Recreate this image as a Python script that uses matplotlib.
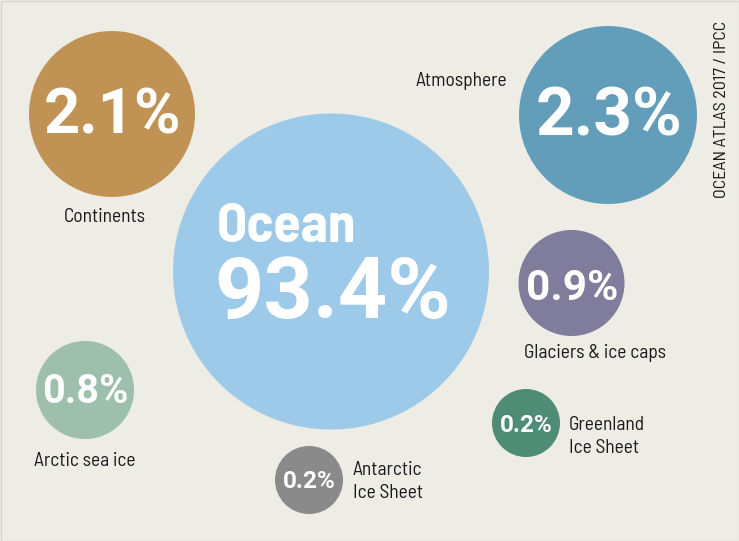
import matplotlib.pyplot as plt
from matplotlib.patches import Circle, Rectangle

# share of the excess heat taken up, by component
names = ['Continents', 'Atmosphere', 'Ocean', 'Glaciers & ice caps',
         'Arctic sea ice', 'Greenland\nIce Sheet', 'Antarctic\nIce Sheet']
shares = [2.1, 2.3, 93.4, 0.9, 0.8, 0.2, 0.2]
colors = ['#C09254', '#629EB9', '#9DCAE8', '#807C9C', '#9DBFAC', '#4F8C76', '#8A8A8A']

# bubble layout (pixel space of the 739x541 picture)
cx = [112, 608, 331, 571.5, 85, 526, 309]
cy = [114, 115, 271.5, 283, 390, 423, 480]
rad = [83, 89, 158, 53, 49, 34, 34]
pct_size = [45.5, 48.5, 62, 30.5, 28.5, 17.5, 17.5]
pct_base = [133, 135, 318, 300, 403, 432, 488]

bg = '#EDECE5'
cond = ['Barlow Semi Condensed', 'DejaVu Sans']
wide = ['Roboto', 'DejaVu Sans']

fig = plt.figure(figsize=(7.39, 5.41), dpi=100)
fig.patch.set_facecolor(bg)
ax = fig.add_axes([0, 0, 1, 1])
ax.set_xlim(0, 739)
ax.set_ylim(541, 0)
ax.set_aspect('equal')
ax.axis('off')
ax.add_patch(Rectangle((0.5, 0.5), 738, 540, fc=bg, ec='#D6D4CC', lw=1))

for i in range(len(names)):
    ax.add_patch(Circle((cx[i], cy[i]), rad[i], color=colors[i], lw=0))

pct = ['%.1f%%' % s for s in shares]

# numbers inside the bubbles
for i in [0, 1, 3, 4, 5, 6]:
    ax.text(cx[i] + 0.5, pct_base[i], pct[i], ha='center', va='baseline',
            fontsize=pct_size[i], fontweight='bold', color='white', family=wide)

ax.text(217, 242, 'Ocean', ha='left', va='baseline', fontsize=40,
        fontweight='bold', color='white', family=cond)
ax.text(214, pct_base[2], pct[2], ha='left', va='baseline', fontsize=pct_size[2],
        fontweight='bold', color='white', family=wide)

# names beside or under the bubbles (baseline = last line)
lab = dict(fontsize=14, color='#1A1A1A', va='baseline', family=cond, linespacing=1.35)
ax.text(105, 222, names[0], ha='center', **lab)
ax.text(507, 86, names[1], ha='right', **lab)
ax.text(595, 358, names[3], ha='center', **lab)
ax.text(85, 466, names[4], ha='center', **lab)
ax.text(569, 453, names[5], ha='left', **lab)
ax.text(353, 498, names[6], ha='left', **lab)

ax.text(722, 109, 'OCEAN ATLAS 2017 / IPCC', rotation=90, ha='center', va='center',
        fontsize=13, color='#1A1A1A', family=cond)

fig.savefig('out.png', dpi=100, facecolor=bg)
